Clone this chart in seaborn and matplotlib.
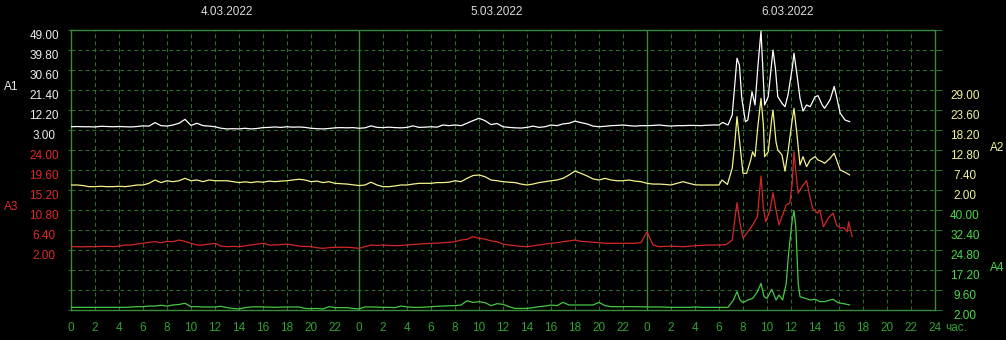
import numpy as np
import matplotlib
matplotlib.use("Agg")
import matplotlib.pyplot as plt
import seaborn as sns

# ---------------- data ----------------
hours_flat = np.arange(0, 54, 0.5)   # half-hour samples, 0 .. 53.5 h

a1_flat = [4.5, 4.6, 4.5, 4.5, 4.4, 4.7, 4.6, 4.5, 4.6, 4.5, 4.4, 4.6,
           4.9, 4.8, 6.4, 5.0, 4.8, 5.3, 6.1, 7.9, 5.1, 6.1, 5.0, 4.8,
           4.5, 3.8, 3.5, 3.6, 3.5, 3.8, 3.5, 3.7, 4.1, 4.2, 4.4, 4.2,
           4.5, 4.3, 4.4, 4.2, 3.8, 3.6, 3.5, 3.7, 4.0, 4.1, 4.0, 4.1,
           3.8, 4.0, 4.9, 4.2, 4.1, 4.3, 4.1, 4.0, 4.2, 4.9, 4.2, 4.3,
           4.5, 4.3, 5.3, 5.0, 5.3, 5.0, 6.1, 7.3, 8.4, 7.3, 5.5, 6.0,
           4.5, 4.2, 4.0, 3.9, 4.2, 4.8, 4.2, 4.5, 5.3, 5.0, 5.8, 6.1,
           7.1, 6.4, 5.8, 4.8, 4.5, 4.7, 5.0, 5.1, 5.3, 5.0, 4.8, 5.0,
           5.0, 5.1, 5.3, 5.0, 4.8, 5.0, 5.0, 5.1, 5.1, 5.0, 5.2, 5.3]
a1_peak_t = [54.0, 54.3, 54.75, 55.1, 55.5, 55.7, 55.9, 56.2, 56.4, 56.75, 57.0,
             57.25, 57.5, 57.7, 57.8, 58.1, 58.5, 58.7, 58.9, 59.25, 59.5, 59.75,
             60.1, 60.25, 60.5, 60.75, 61.0, 61.3, 61.6, 62.0, 62.25, 62.6, 62.8,
             63.25, 63.6, 63.8, 64.1, 64.5, 64.9]
a1_peak_v = [5.3, 6.5, 5.3, 9.9, 36.0, 32.9, 17.6, 6.8, 7.6, 20.6, 14.5,
             32.9, 48.5, 25.2, 14.5, 18.3, 39.8, 31.4, 18.3, 15.3, 13.7, 19.1,
             31.4, 38.3, 28.3, 17.6, 11.7, 14.5, 13.7, 18.3, 18.8, 14.5, 13.0,
             16.8, 23.0, 18.3, 10.7, 7.6, 6.8]

a2_flat = [3.35, 3.35, 3.2, 2.9, 2.9, 3.0, 2.9, 2.9, 3.0, 2.9, 3.1, 3.35,
           3.35, 3.8, 4.7, 4.0, 4.5, 4.25, 4.5, 5.15, 4.5, 4.7, 4.25, 4.7,
           4.5, 4.5, 4.5, 4.25, 4.0, 4.2, 4.0, 4.25, 4.1, 4.4, 4.25, 4.4,
           4.5, 4.7, 4.9, 4.7, 4.25, 4.4, 4.0, 4.25, 3.8, 3.7, 3.6, 3.4,
           3.2, 3.35, 4.1, 3.35, 2.9, 2.9, 3.1, 3.35, 3.35, 3.6, 3.8, 3.8,
           3.8, 4.0, 4.0, 4.1, 4.5, 4.25, 5.15, 5.9, 6.05, 5.6, 4.7, 4.5,
           4.25, 4.1, 4.0, 3.6, 3.35, 3.6, 4.0, 4.25, 4.5, 4.7, 5.15, 6.05,
           7.1, 6.5, 5.8, 5.0, 4.7, 5.15, 4.7, 4.5, 4.5, 4.7, 4.4, 4.25,
           3.8, 3.6, 3.6, 3.5, 3.35, 3.8, 4.25, 3.8, 3.4, 3.35, 3.35, 3.35]
a2_peak_t = [54.0, 54.25, 54.7, 55.1, 55.3, 55.5, 55.75, 56.0, 56.3, 56.6, 56.8,
             57.0, 57.25, 57.5, 57.7, 57.8, 58.1, 58.4, 58.5, 58.75, 58.9, 59.25,
             59.5, 59.75, 60.1, 60.25, 60.5, 60.75, 61.0, 61.3, 61.6, 62.0, 62.25,
             62.6, 62.8, 63.25, 63.6, 63.8, 64.1, 64.5, 64.9]
a2_peak_v = [3.35, 4.7, 3.5, 7.85, 14.0, 21.8, 14.2, 6.5, 6.5, 9.65, 12.3,
             11.0, 19.55, 26.75, 19.55, 11.0, 12.3, 21.35, 23.6, 15.0, 12.8, 11.45,
             7.1, 12.3, 20.9, 24.05, 16.85, 8.75, 11.0, 8.3, 10.1, 11.0, 10.1,
             9.65, 9.2, 10.55, 11.9, 10.1, 7.4, 6.8, 6.05]

a3_flat = [2.73, 2.73, 2.7, 2.75, 2.73, 2.8, 2.8, 2.75, 2.85, 3.1, 3.1, 3.3,
           3.47, 3.7, 3.83, 3.6, 3.9, 3.83, 4.2, 3.9, 3.47, 3.1, 3.1, 3.3,
           3.47, 2.85, 2.73, 2.8, 2.73, 2.9, 3.1, 3.3, 3.47, 3.1, 3.1, 3.2,
           3.3, 3.1, 2.85, 2.8, 2.73, 2.5, 2.37, 2.5, 2.6, 2.6, 2.6, 2.5,
           2.37, 2.73, 3.1, 3.0, 3.1, 3.0, 2.95, 3.0, 3.1, 3.2, 3.3, 3.4,
           3.47, 3.5, 3.6, 3.7, 3.83, 4.2, 4.35, 4.93, 4.57, 4.4, 4.0, 3.83,
           3.3, 3.1, 2.95, 2.8, 2.73, 2.9, 3.1, 3.3, 3.47, 3.6, 3.83, 4.0,
           4.2, 3.9, 3.83, 3.7, 3.6, 3.5, 3.47, 3.47, 3.47, 3.47, 3.47, 3.6,
           6.0, 3.1, 2.73, 2.8, 2.85, 2.8, 2.73, 2.8, 2.95, 3.0, 3.1, 3.1]
a3_peak_t = [54.0, 54.6, 55.1, 55.5, 55.75, 56.0, 56.4, 56.8, 57.2, 57.3, 57.5,
             57.7, 57.9, 58.25, 58.5, 58.75, 59.0, 59.3, 59.6, 59.9, 60.1, 60.25,
             60.5, 60.6, 60.9, 61.3, 61.6, 61.8, 62.2, 62.4, 62.7, 63.1, 63.5,
             63.8, 64.1, 64.4, 64.7, 64.8, 65.1]
a3_peak_v = [3.1, 3.2, 4.2, 12.4, 7.9, 4.6, 6.0, 7.5, 9.3, 12.5, 18.3,
             11.2, 8.2, 10.8, 14.6, 10.8, 7.5, 9.7, 11.9, 12.3, 16.7, 23.6,
             16.7, 14.5, 15.9, 17.25, 13.4, 11.2, 10.1, 10.8, 7.1, 9.0, 10.1,
             7.5, 6.8, 6.9, 6.0, 8.2, 4.9]

a4_flat = [3.0, 3.0, 3.0, 3.0, 3.0, 3.0, 3.0, 3.0, 3.0, 3.0, 3.1, 3.27,
           3.27, 3.5, 3.5, 3.8, 3.5, 3.9, 4.1, 4.55, 3.27, 3.27, 3.15, 3.15,
           3.15, 3.4, 2.9, 2.6, 2.4, 2.9, 3.15, 3.2, 3.15, 3.1, 3.0, 3.1,
           3.15, 3.15, 3.15, 2.6, 2.5, 2.6, 2.4, 3.27, 2.9, 2.9, 2.9, 2.6,
           2.4, 3.15, 3.15, 3.1, 3.0, 3.0, 2.9, 3.5, 3.15, 3.0, 3.0, 3.1,
           3.27, 3.4, 3.5, 3.6, 3.65, 3.9, 5.5, 4.9, 5.15, 4.8, 3.65, 4.4,
           4.15, 3.27, 2.6, 2.6, 2.6, 2.9, 3.27, 3.5, 3.9, 3.65, 4.9, 3.9,
           3.9, 3.9, 3.9, 3.9, 4.9, 3.65, 3.27, 3.27, 3.27, 3.27, 3.27, 3.2,
           3.15, 3.15, 3.15, 3.1, 3.0, 3.0, 3.0, 3.0, 3.15, 3.0, 3.0, 3.0]
a4_peak_t = [54.0, 54.75, 55.2, 55.5, 55.75, 56.0, 56.4, 56.8, 57.2, 57.5, 57.75,
             58.0, 58.4, 58.75, 59.0, 59.3, 59.6, 59.8, 60.1, 60.25, 60.4, 60.6,
             60.75, 61.2, 61.6, 62.0, 62.4, 62.8, 63.5, 63.9, 64.5, 64.9]
a4_peak_v = [3.0, 3.0, 5.8, 8.95, 5.8, 4.8, 5.8, 6.4, 8.95, 12.1, 7.1,
             6.4, 9.9, 5.8, 7.7, 5.8, 12.1, 23.5, 36.2, 39.7, 33.7, 12.1,
             7.1, 6.4, 5.8, 6.1, 5.2, 5.2, 6.1, 4.8, 4.3, 3.9]

a1_ticks = [3.0, 12.2, 21.4, 30.6, 39.8, 49.0]
a2_ticks = [2.0, 7.4, 12.8, 18.2, 23.6, 29.0]
a3_ticks = [2.0, 6.4, 10.8, 15.2, 19.6, 24.0]
a4_ticks = [2.0, 9.6, 17.2, 24.8, 32.4, 40.0]
dates = ["4.03.2022", "5.03.2022", "6.03.2022"]
date_pos = [13.0, 35.5, 59.7]   # hour under the centre of each date label
series_names = ["A1", "A2", "A3", "A4"]

# ---------------- style ----------------
sns.set_style("dark")
plt.rcParams['font.family'] = ['Liberation Sans Narrow', 'Liberation Sans', 'DejaVu Sans']

BG = "#000000"
GRID = "#2d6d2d"
FRAME = "#3c8a3c"
XLAB = "#35a035"
C1, C2, C3, C4 = "#ffffff", "#f3f38c", "#d42828", "#46c846"
L1, L2, L3, L4 = "#eeeeee", "#f2f29a", "#e02a2a", "#4cd84c"
FS = 8.5
PX = 0.72  # points per pixel at 100 dpi

fig = plt.figure(figsize=(10.06, 3.40), dpi=100, facecolor=BG)
W, H = 1006, 340
ax = fig.add_axes([71 / W, 30 / H, 864 / W, 280 / H])
ax.set_facecolor(BG)
ax.set_xlim(0, 72)
ax.set_ylim(0, 14)
xt = list(range(0, 73, 2))
ax.set_xticks(xt)
ax.set_xticklabels([str(h % 24) if h < 72 else "24" for h in xt])
ax.set_yticks(range(15))
ax.set_yticklabels([])
ax.grid(True, color=GRID, linestyle=(0, (3.8, 2.9)), linewidth=0.75)
for s in ax.spines.values():
    s.set_color(FRAME)
    s.set_linewidth(1.0)
ax.tick_params(axis='x', length=5 * PX, width=0.75, color=GRID, labelcolor=XLAB,
               labelsize=FS, pad=5)
ax.tick_params(axis='y', left=True, right=False, length=3 * PX, width=0.75, color=GRID)
for d in (24, 48):
    ax.axvline(d, color=FRAME, linewidth=1.0)

# right-side tick extensions
axr = ax.twinx()
axr.set_ylim(0, 14)
axr.set_yticks(range(15))
axr.set_yticklabels([])
axr.tick_params(axis='y', right=True, left=False, length=7 * PX, width=0.75, color=GRID)
for s in axr.spines.values():
    s.set_visible(False)


def series_axis(ylim, ticks, color, side):
    a = ax.twinx()
    for s in a.spines.values():
        s.set_visible(False)
    a.set_ylim(*ylim)
    a.set_yticks(ticks)
    a.set_yticklabels([f"{t:.2f}" for t in ticks])
    if side == "left":
        a.yaxis.tick_left()
        a.tick_params(axis='y', length=0, pad=27 * PX, labelcolor=color, labelsize=FS)
    else:
        a.yaxis.tick_right()
        a.tick_params(axis='y', length=0, pad=30 * PX, labelcolor=color, labelsize=FS)
    for lab in a.get_yticklabels():
        lab.set_horizontalalignment('center')
        lab.set_verticalalignment('top')
    return a


ax1 = series_axis((-79.8, 49.0), a1_ticks, L1, "left")
ax3 = series_axis((-11.2, 50.4), a3_ticks, L3, "left")
ax2 = series_axis((-30.4, 45.2), a2_ticks, L2, "right")
ax4 = series_axis((2.0, 108.4), a4_ticks, L4, "right")

for a, flat, pt, pv, c in [(ax4, a4_flat, a4_peak_t, a4_peak_v, C4),
                            (ax3, a3_flat, a3_peak_t, a3_peak_v, C3),
                            (ax2, a2_flat, a2_peak_t, a2_peak_v, C2),
                            (ax1, a1_flat, a1_peak_t, a1_peak_v, C1)]:
    t = np.concatenate([hours_flat, pt])
    v = np.concatenate([flat, pv])
    ylim = a.get_ylim()
    sns.lineplot(x=t, y=v, ax=a, color=c, linewidth=0.9, sort=False,
                 estimator=None)
    a.set_ylim(*ylim)
    a.set_xlabel("")
    a.set_ylabel("")

ax.set_xlim(0, 72)

# "час." after the last hour label
ax.annotate("час.", xy=(72, 0), xycoords=('data', 'axes fraction'),
            xytext=(10, -12), textcoords='offset pixels', ha='left', va='top',
            color=XLAB, fontsize=FS)

# date labels
for dt, pos in zip(dates, date_pos):
    ax.annotate(dt, xy=(pos, 1), xycoords=('data', 'axes fraction'),
                xytext=(0, 18), textcoords='offset pixels', ha='center',
                va='center', color="#dcdcdc", fontsize=FS)

# series names
fig.text(11 / W, 1 - 87 / H, series_names[0], color=L1, fontsize=FS, ha='center', va='center')
fig.text(11 / W, 1 - 207 / H, series_names[2], color=L3, fontsize=FS, ha='center', va='center')
fig.text(997 / W, 1 - 148 / H, series_names[1], color=L2, fontsize=FS, ha='center', va='center')
fig.text(997 / W, 1 - 268 / H, series_names[3], color=L4, fontsize=FS, ha='center', va='center')

fig.savefig("out.png", dpi=100, facecolor=BG)
